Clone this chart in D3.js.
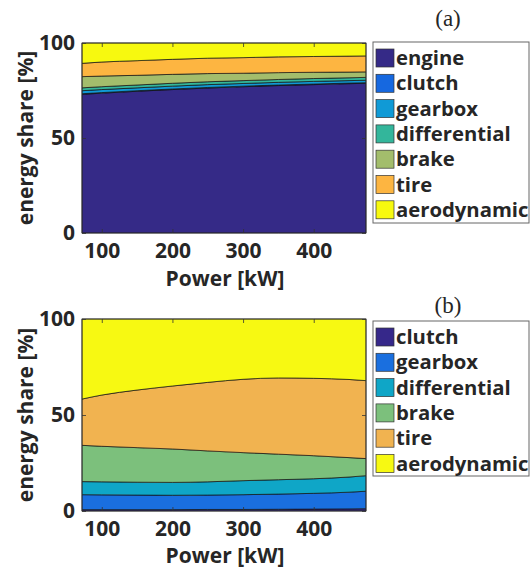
<!DOCTYPE html>
<html>
<head>
<meta charset="utf-8">
<script src="https://cdn.jsdelivr.net/npm/d3@7"></script>
<style>
    body { margin: 0; background: #fff; }
    svg { display: block; }
    .tick-label, .axis-title, .legend-label { font-family: "Open Sans", sans-serif; font-weight: bold; fill: #262626; }
    .panel-title { font-family: "Liberation Serif", serif; fill: #262626; }
</style>
</head>
<body>
<svg id="chart"></svg>
<script>
(function (d3) {
    'use strict';

    // power samples [kW]
    var power = [72, 100, 150, 200, 250, 300, 350, 400, 450, 474];
    var xTicks = [100, 200, 300, 400];
    var yTicks = [0, 50, 100];

    // panel (a): energy share [%] per component
    var aKeys = ['engine', 'clutch', 'gearbox', 'differential', 'brake', 'tire', 'aerodynamic'];
    var aEngine = [73.0, 73.6, 74.6, 75.5, 76.3, 77.0, 77.6, 78.1, 78.6, 78.8];
    var aClutch = [0.3, 0.3, 0.3, 0.3, 0.3, 0.3, 0.3, 0.3, 0.3, 0.3];
    var aGearbox = [1.6, 1.6, 1.5, 1.5, 1.5, 1.4, 1.4, 1.4, 1.3, 1.3];
    var aDifferential = [1.5, 1.5, 1.5, 1.5, 1.5, 1.5, 1.5, 1.5, 1.5, 1.5];
    var aBrake = [5.9, 5.6, 5.1, 4.7, 4.3, 3.9, 3.6, 3.3, 3.0, 2.9];
    var aTire = [7.0, 7.4, 7.7, 7.9, 8.1, 8.2, 8.3, 8.3, 8.4, 8.4];
    var aAero = [10.7, 10.0, 9.3, 8.6, 8.0, 7.7, 7.3, 7.1, 6.9, 6.8];
    var aColors = ['#352a87', '#1668e0', '#109ad6', '#33b69b', '#a3bd6c', '#fdb541', '#f7f90f'];

    // panel (b)
    var bKeys = ['clutch', 'gearbox', 'differential', 'brake', 'tire', 'aerodynamic'];
    var bClutch = [0.7, 0.7, 0.7, 0.7, 0.8, 0.8, 0.9, 1.0, 1.1, 1.2];
    var bGearbox = [7.8, 7.7, 7.6, 7.5, 7.5, 7.7, 7.9, 8.2, 8.7, 9.1];
    var bDifferential = [6.8, 6.8, 6.7, 6.7, 6.9, 7.3, 7.5, 7.6, 7.9, 8.1];
    var bBrake = [18.9, 18.5, 18.0, 17.4, 16.1, 14.6, 13.3, 12.0, 10.1, 8.9];
    var bTire = [24.1, 26.7, 30.0, 32.8, 35.7, 38.2, 39.7, 40.3, 40.7, 40.6];
    var bAero = [41.7, 39.6, 37.0, 34.9, 33.0, 31.4, 30.7, 30.9, 31.5, 32.1];
    var bColors = ['#36288a', '#1a6fdf', '#0fa6c7', '#7cc07c', '#f1b350', '#f7f912'];

    var width = 530,
        height = 570;

    var svg = d3.select('#chart')
        .attr('width', width)
        .attr('height', height);

    function table(keys, series) {
        return power.map(function (p, i) {
            var row = { power: p };
            keys.forEach(function (k, j) { row[k] = series[j][i]; });
            return row;
        });
    }

    var panels = [
        {
            title: '(a)', keys: aKeys, colors: aColors,
            rows: table(aKeys, [aEngine, aClutch, aGearbox, aDifferential, aBrake, aTire, aAero]),
            top: 43, bottom: 233, titleY: 26, xTitleOffset: 53, legendTop: 42, legendBottom: 223
        },
        {
            title: '(b)', keys: bKeys, colors: bColors,
            rows: table(bKeys, [bClutch, bGearbox, bDifferential, bBrake, bTire, bAero]),
            top: 319, bottom: 511, titleY: 313, xTitleOffset: 52, legendTop: 321, legendBottom: 476
        }
    ];

    var plotLeft = 82,
        plotRight = 366,
        tickLen = 4;

    var legend = { left: 373, right: 529, swatch: 18, spacing: 25.3, pad: 16 };

    panels.forEach(function (p) {
        var x = d3.scaleLinear().domain([72, 474]).range([plotLeft, plotRight]),
            y = d3.scaleLinear().domain([0, 100]).range([p.bottom, p.top]),
            z = d3.scaleOrdinal().domain(p.keys).range(p.colors);

        var g = svg.append('g');

        var stacked = d3.stack().keys(p.keys)(p.rows);

        var area = d3.area()
            .curve(d3.curveMonotoneX)
            .x(function (d) { return x(d.data.power); })
            .y0(function (d) { return y(d[0]); })
            .y1(function (d) { return y(d[1]); });

        g.selectAll('.layer')
            .data(stacked)
            .enter()
            .append('path')
            .attr('class', 'layer')
            .attr('d', area)
            .style('fill', function (d) { return z(d.key); })
            .style('stroke', '#111')
            .style('stroke-width', 0.7);

        // axes drawn on top, ticks pointing inward like matlab
        g.append('g')
            .attr('transform', 'translate(0,' + p.bottom + ')')
            .call(d3.axisBottom(x).tickValues(xTicks).tickSize(-tickLen).tickPadding(10))
            .call(styleAxis);

        g.append('g')
            .attr('transform', 'translate(0,' + p.top + ')')
            .call(d3.axisTop(x).tickValues(xTicks).tickSize(-tickLen).tickFormat(''))
            .call(styleAxis);

        g.append('g')
            .attr('transform', 'translate(' + plotLeft + ',0)')
            .call(d3.axisLeft(y).tickValues(yTicks).tickSize(-tickLen).tickPadding(7))
            .call(styleAxis);

        g.append('g')
            .attr('transform', 'translate(' + plotRight + ',0)')
            .call(d3.axisRight(y).tickValues(yTicks).tickSize(-tickLen).tickFormat(''))
            .call(styleAxis);

        g.append('rect')
            .attr('x', plotLeft)
            .attr('y', p.top)
            .attr('width', plotRight - plotLeft)
            .attr('height', p.bottom - p.top)
            .style('fill', 'none')
            .style('stroke', '#333')
            .style('stroke-width', 0.8);

        g.append('text')
            .attr('class', 'axis-title')
            .attr('x', (plotLeft + plotRight) / 2 + 1)
            .attr('y', p.bottom + p.xTitleOffset)
            .style('font-size', '21px')
            .style('text-anchor', 'middle')
            .text('Power [kW]');

        g.append('text')
            .attr('class', 'axis-title')
            .attr('transform', 'translate(33,' + (p.top + p.bottom) / 2 + ') rotate(-90)')
            .style('font-size', '21px')
            .style('text-anchor', 'middle')
            .text('energy share [%]');

        g.append('text')
            .attr('class', 'panel-title')
            .attr('x', 448)
            .attr('y', p.titleY)
            .style('font-size', '23px')
            .style('text-anchor', 'middle')
            .text(p.title);

        // legend
        g.append('rect')
            .attr('x', legend.left)
            .attr('y', p.legendTop)
            .attr('width', legend.right - legend.left)
            .attr('height', p.legendBottom - p.legendTop)
            .style('fill', '#fff')
            .style('stroke', '#666')
            .style('stroke-width', 1);

        var items = g.selectAll('.legend-item')
            .data(p.keys)
            .enter()
            .append('g')
            .attr('class', 'legend-item')
            .attr('transform', function (d, i) {
                var vert = p.legendTop + legend.pad + i * legend.spacing;
                return 'translate(' + (legend.left + 3) + ',' + vert + ')';
            });

        items.append('rect')
            .attr('x', 0)
            .attr('y', -legend.swatch / 2)
            .attr('width', legend.swatch)
            .attr('height', legend.swatch)
            .style('fill', z)
            .style('stroke', '#333')
            .style('stroke-width', 0.7);

        items.append('text')
            .attr('class', 'legend-label')
            .attr('x', legend.swatch + 2)
            .attr('y', 7)
            .style('font-size', '20.3px')
            .text(function (d) { return d; });
    });

    function styleAxis(sel) {
        sel.select('.domain').remove();
        sel.selectAll('.tick line').style('stroke', '#333').style('stroke-width', 0.8);
        sel.selectAll('.tick text')
            .attr('class', 'tick-label')
            .style('font-size', '21px');
    }

})(window.d3);
</script>
</body>
</html>
